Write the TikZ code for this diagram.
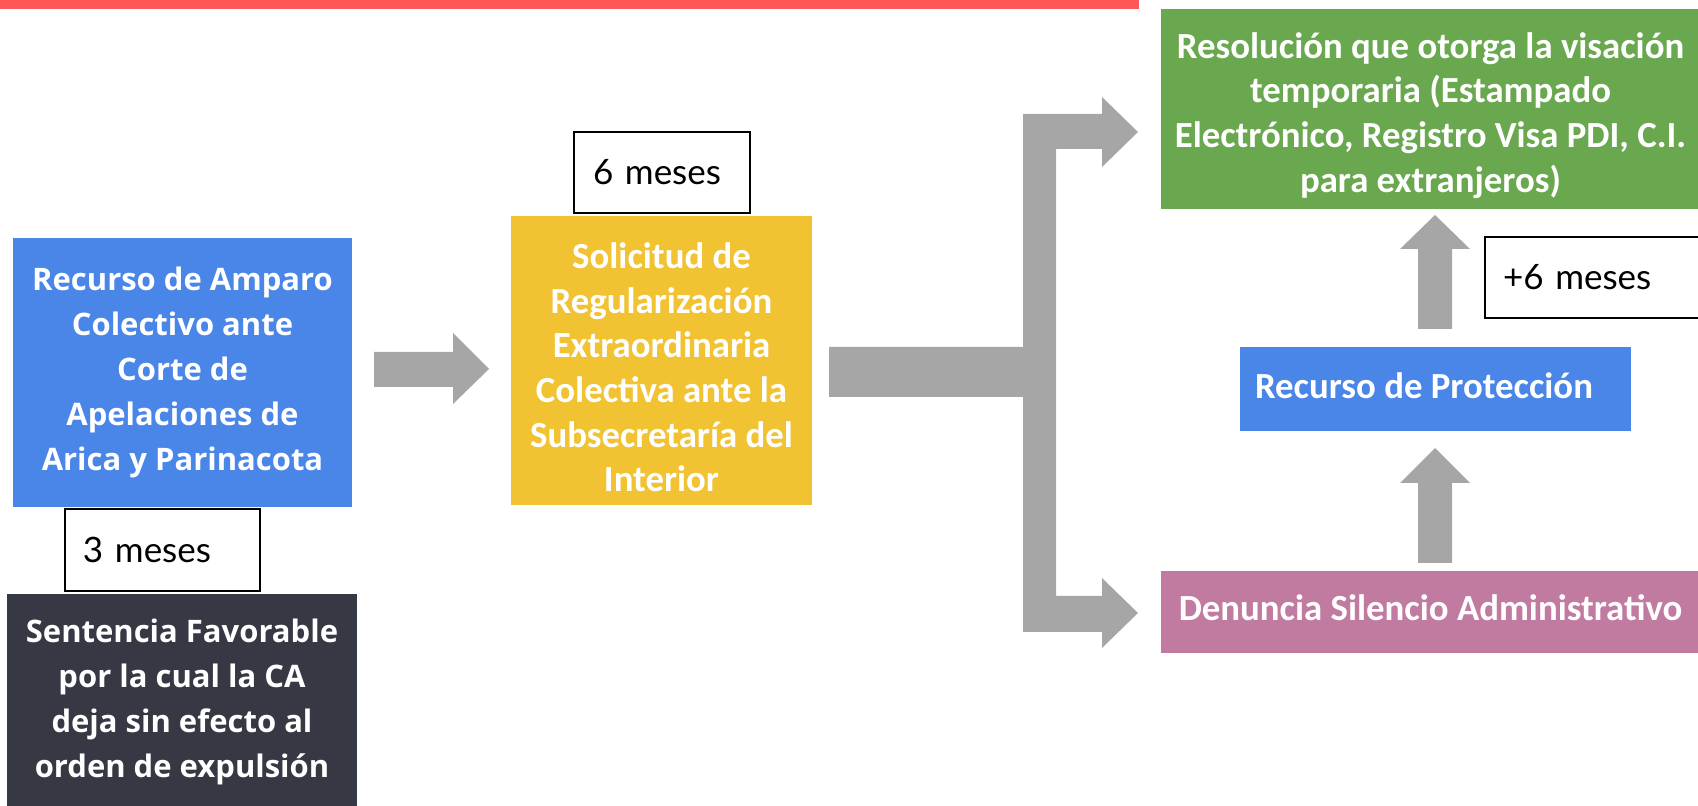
\documentclass[tikz,border=0pt]{standalone}
\usepackage{fontspec}
\setmainfont{Carlito}
\newfontfamily\osfont{Open Sans}
\newfontfamily\latofont{Lato}
\definecolor{cblue}{HTML}{4A86E8}
\definecolor{cyellow}{HTML}{F1C232}
\definecolor{cgreen}{HTML}{6AA84F}
\definecolor{cpink}{HTML}{C27BA0}
\definecolor{cdark}{HTML}{363843}
\definecolor{cgray}{HTML}{A6A6A6}
\definecolor{cred}{HTML}{FF5757}
\tikzset{
  boxw/.style={inner sep=0pt, align=center, text=white},
  osbox/.style={boxw, font=\osfont\bfseries\fontsize{15.5pt}{22.5pt}\selectfont},
  catext/.style={boxw, font=\bfseries\fontsize{18.4pt}{22.3pt}\selectfont},
  plainbox/.style={inner sep=0pt},
  lbl/.style={draw=black, line width=1pt, fill=white, inner ysep=0pt, align=left,
              font=\latofont\fontsize{17.5pt}{21pt}\selectfont},
  conn/.style={fill=cgray, draw=none}
}
\begin{document}
\begin{tikzpicture}[x=0.5pt, y=-0.5pt]
\useasboundingbox (0,0) rectangle (1698,806);
% top red bar
\fill[cred] (0,0) rectangle (1139,9);

% left column
\node[osbox, fill=cblue, minimum width=339*0.5pt, minimum height=269*0.5pt] (amparo) at (182.5,372.5)
  {Recurso de Amparo\\Colectivo ante\\Corte de\\Apelaciones de\\Arica y Parinacota};
\node[osbox, fill=cdark, minimum width=350*0.5pt, minimum height=216*0.5pt] (sentencia) at (182,702)
  {Sentencia Favorable\\por la cual la CA\\deja sin efecto al\\orden de expulsión};
\node[lbl, inner xsep=18*0.5pt, text width=159*0.5pt, minimum height=82*0.5pt] (tres) at (162.5,550) {3 meses};

% middle column
\node[plainbox, fill=cyellow, minimum width=301*0.5pt, minimum height=289*0.5pt] (solicitud) at (661.5,360.5) {};
\node[catext] (solicitudt) at ([yshift=-3.5pt]solicitud.center)
  {Solicitud de\\Regularización\\Extraordinaria\\Colectiva ante la\\Subsecretaría del\\Interior};
\node[lbl, inner xsep=19*0.5pt, text width=138*0.5pt, minimum height=81*0.5pt] (seis) at (662,172.5) {6 meses};

% right column
\node[plainbox, fill=cgreen, minimum width=539*0.5pt, minimum height=200*0.5pt] (resol) at (1430.5,109) {};
\node[catext] (resolt) at ([yshift=-3.2pt]resol.center)
  {Resolución que otorga la visación\\temporaria (Estampado\\ Electrónico, Registro Visa PDI, C.I.\\para extranjeros)};
\node[lbl, inner xsep=18*0.5pt, text width=182*0.5pt, minimum height=81*0.5pt] (masseis) at (1594,277.5) {+6 meses};
\node[plainbox, fill=cblue, minimum width=391*0.5pt, minimum height=84*0.5pt] (prot) at (1435.5,389) {};
\node[catext, anchor=west] (prott) at ([xshift=7.5pt, yshift=1.5pt]prot.west) {Recurso de Protección};
\node[plainbox, fill=cpink, minimum width=539*0.5pt, minimum height=82*0.5pt] (denuncia) at (1430.5,612) {};
\node[catext] (denunciat) at ([yshift=2pt]denuncia.center) {Denuncia Silencio Administrativo};

% connectors
\fill[conn] (374,352) -- (453,352) -- (453,333) -- (489,369) -- (453,404) -- (453,387) -- (374,387) -- cycle;
\fill[conn] (829,347) -- (1023,347) -- (1023,114) -- (1102,114) -- (1102,97) -- (1138,132)
  -- (1102,167) -- (1102,149) -- (1056,149) -- (1056,596) -- (1102,596) -- (1102,578)
  -- (1138,613) -- (1102,648) -- (1102,632) -- (1023,632) -- (1023,397) -- (829,397) -- cycle;
\fill[conn] (1418,329) -- (1418,249) -- (1400,249) -- (1435,215) -- (1470,249) -- (1452,249) -- (1452,329) -- cycle;
\fill[conn] (1418,563) -- (1418,483) -- (1400,483) -- (1435,448) -- (1470,483) -- (1452,483) -- (1452,563) -- cycle;
\end{tikzpicture}
\end{document}
